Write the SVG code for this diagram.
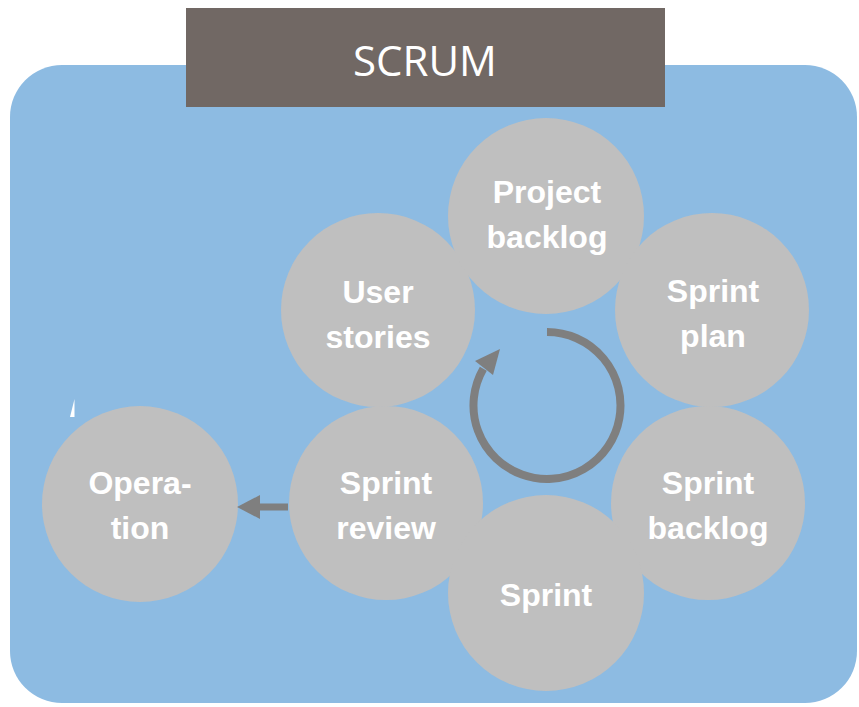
<svg xmlns="http://www.w3.org/2000/svg" width="859" height="707" viewBox="0 0 859 707">
<style>
.node circle{fill:#bfbfbf}
.node text{fill:#fff;font-family:"Liberation Sans",Arial,sans-serif;font-weight:bold;font-size:32px;text-anchor:middle}
.conn{fill:#7f7f7f}
</style>
<rect x="10" y="65" width="847" height="638" rx="52" ry="52" fill="#8dbbe2"/>
<polygon points="70,417 74.5,399 74.5,417" fill="#fff"/>
<g id="title">
<rect x="186" y="8" width="479" height="99" fill="#716864"/>
<text x="425" y="76" fill="#fff" font-family="'Open Sans','Liberation Sans',sans-serif" font-size="42" text-anchor="middle">SCRUM</text>
</g>
<g id="user-stories" class="node"><circle cx="378" cy="310" r="97"/><text x="378" y="303">User</text><text x="378" y="348">stories</text></g>
<g id="project-backlog" class="node"><circle cx="546" cy="216" r="98"/><text x="547" y="203">Project</text><text x="547" y="248">backlog</text></g>
<g id="sprint-plan" class="node"><circle cx="712" cy="310" r="97"/><text x="713" y="302">Sprint</text><text x="713" y="347">plan</text></g>
<g id="sprint-review" class="node"><circle cx="386" cy="503" r="97"/><text x="386" y="494">Sprint</text><text x="386" y="539">review</text></g>
<g id="sprint-backlog" class="node"><circle cx="708" cy="503" r="97"/><text x="708" y="494">Sprint</text><text x="708" y="539">backlog</text></g>
<g id="sprint" class="node"><circle cx="546" cy="593" r="98"/><text x="546" y="606">Sprint</text></g>
<g id="operation" class="node"><circle cx="140" cy="504" r="98"/><text x="140" y="494">Opera-</text><text x="140" y="539">tion</text></g>
<g id="connectors">
<path d="M547 332 A73.5 73.5 0 1 1 483.3 368.8" fill="none" stroke="#7f7f7f" stroke-width="8"/>
<polygon class="conn" points="475,361 500,349 493,375"/>
<rect class="conn" x="258" y="503.5" width="30" height="7"/>
<polygon class="conn" points="260,495 237,507 260,519"/>
</g>
</svg>
